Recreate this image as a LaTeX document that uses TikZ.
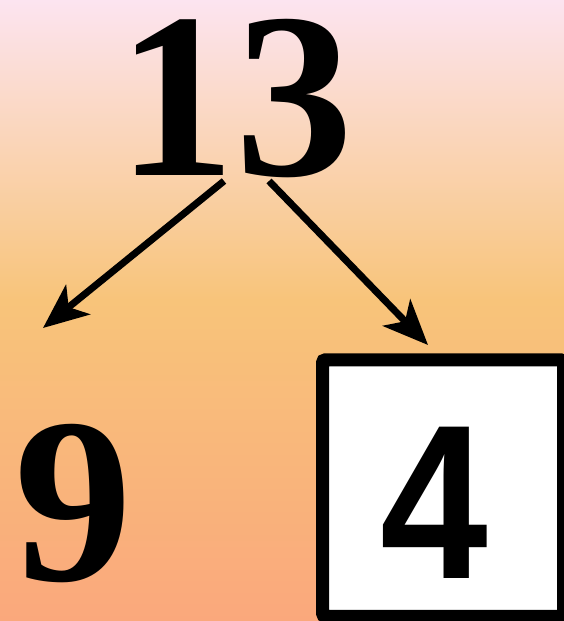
\documentclass[tikz,border=0pt]{standalone}
\usepackage{fontspec}
\setmainfont{Liberation Serif}
\newfontfamily\boxfont{Liberation Sans}
\usetikzlibrary{arrows.meta,positioning}
\definecolor{bgtop}{RGB}{252,228,240}
\definecolor{bgmid}{RGB}{248,196,122}
\definecolor{bgbot}{RGB}{250,168,124}
\tikzset{
  num/.style  ={inner sep=0pt,anchor=base,
                font=\fontsize{236}{236}\selectfont\bfseries},
  ans/.style  ={inner sep=0pt,anchor=base,xscale=0.88,
                font=\fontsize{220}{220}\selectfont\boxfont\bfseries},
  ansbox/.style={draw,fill=white,line width=13pt,rounded corners=3pt,
                minimum width=241pt,minimum height=256.5pt},
  ar/.style   ={line width=7pt,-{Stealth[length=45pt,width=38pt,inset=12pt]}},
}

\begin{document}
\begin{tikzpicture}[x=1pt,y=-1pt]
\useasboundingbox (0,0) rectangle (564,621);
% background, two bands
\shade[top color=bgtop,bottom color=bgmid] (0,0) rectangle (564,300);
\shade[top color=bgmid,bottom color=bgbot] (0,299.5) rectangle (564,621);
\node[num] (N) at (235.5,175) {13};
\node[num] (L) at (73.5,580) {9};
\node[ansbox] (B) at (443,488) {};
\node[ans] (R) at (434.5,578) {4};
\coordinate (Ls) at (224,181);
\coordinate (Lt) at (43,328);
\coordinate (Rs) at (269,181);
\coordinate (Rt) at (428,345);
\draw[ar] (Ls) -- (Lt); \draw[ar] (Rs) -- (Rt);
\end{tikzpicture}
\end{document}
